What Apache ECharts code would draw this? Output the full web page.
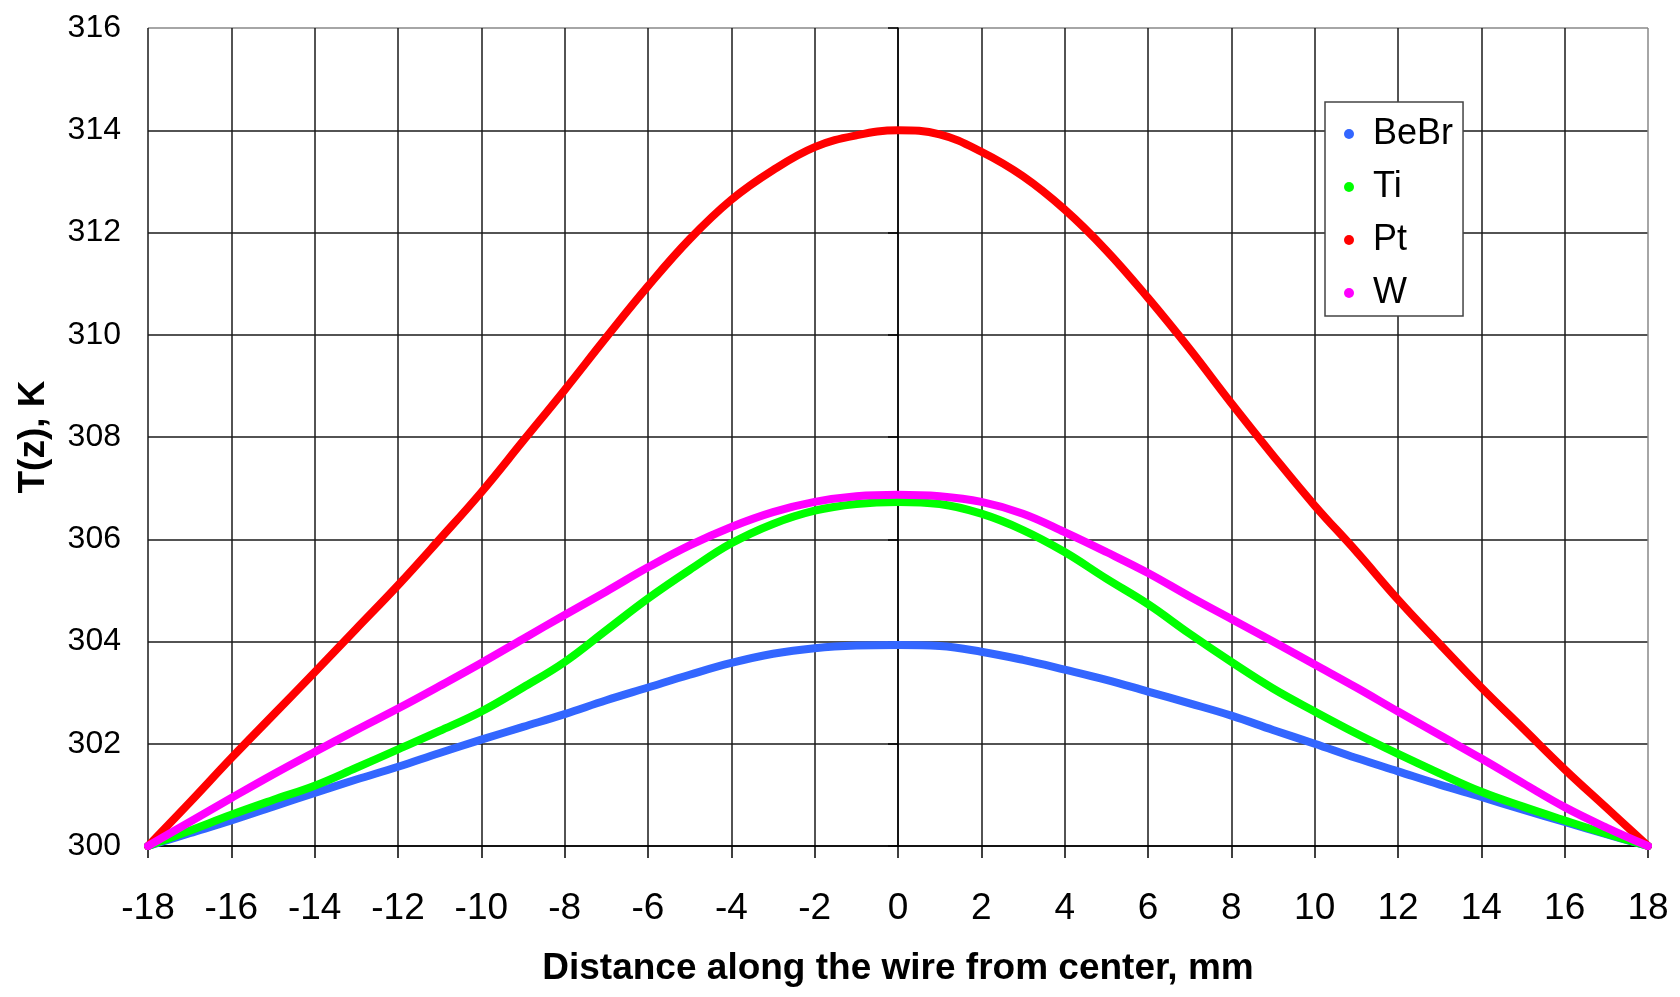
<!DOCTYPE html>
<html>
<head>
<meta charset="utf-8">
<script src="https://cdn.jsdelivr.net/npm/echarts@6/dist/echarts.min.js"></script>
<style>
html,body{margin:0;padding:0;background:#fff;}
#chart{width:1680px;height:997px;}
</style>
</head>
<body>
<div id="chart"></div>
<script>
var positions = [-18,-17,-16,-15,-14,-13,-12,-11,-10,-9,-8,-7,-6,-5,-4,-3,-2,-1,0,1,2,3,4,5,6,7,8,9,10,11,12,13,14,15,16,17,18];
var bebr = [300,300.25,300.5,300.77,301.04,301.3,301.55,301.82,302.08,302.33,302.58,302.85,303.1,303.35,303.58,303.76,303.87,303.92,303.93,303.91,303.8,303.64,303.45,303.25,303.02,302.79,302.55,302.27,302.0,301.72,301.46,301.2,300.96,300.71,300.47,300.23,300];
var ti = [300,300.3,300.61,300.9,301.18,301.53,301.89,302.25,302.63,303.1,303.6,304.22,304.84,305.4,305.92,306.3,306.56,306.69,306.73,306.69,306.5,306.18,305.75,305.23,304.73,304.15,303.6,303.08,302.63,302.2,301.8,301.42,301.06,300.77,300.5,300.24,300];
var pt = [300,300.85,301.72,302.56,303.4,304.25,305.1,306.0,306.92,307.92,308.92,309.95,310.95,311.87,312.64,313.22,313.67,313.9,314.0,313.92,313.58,313.1,312.45,311.65,310.72,309.72,308.66,307.64,306.66,305.76,304.82,303.95,303.1,302.3,301.5,300.75,300];
var w = [300,300.47,300.94,301.4,301.84,302.27,302.69,303.13,303.58,304.05,304.52,304.98,305.45,305.88,306.24,306.53,306.73,306.84,306.87,306.84,306.73,306.5,306.14,305.75,305.34,304.88,304.44,304.0,303.55,303.1,302.63,302.17,301.71,301.23,300.76,300.36,300];
var seriesNames = ['BeBr','Ti','Pt','W'];
var seriesColors = ['#3366FF','#00FF00','#FF0000','#FF00FF'];
var xTitle = 'Distance along the wire from center, mm';
var yTitle = 'T(z), K';

function pairs(arr){ return positions.map(function(x,i){ return [x, arr[i]]; }); }
var allData = [bebr, ti, pt, w];
var FONT = '"Liberation Sans", Arial, sans-serif';

var xGridColors = [];
for (var i = 0; i < 19; i++) xGridColors.push(i === 18 ? '#888888' : '#1a1a1a');
var yGridColors = [];
for (var j = 0; j < 9; j++) yGridColors.push(j === 8 ? '#888888' : '#1a1a1a');

var chart = echarts.init(document.getElementById('chart'), null, {renderer:'canvas'});
chart.setOption({
  animation: false,
  backgroundColor: '#ffffff',
  grid: {left: 148, right: 32, top: 28, bottom: 151, containLabel: false},
  legend: {
    orient: 'vertical',
    left: 1325, top: 102,
    icon: 'circle',
    itemWidth: 10, itemHeight: 10,
    itemGap: 17,
    padding: [14, 10, 5, 19],
    backgroundColor: '#ffffff',
    borderColor: '#444444',
    borderWidth: 1.5,
    borderRadius: 0,
    textStyle: {fontFamily: FONT, fontSize: 36, color: '#000', lineHeight: 36, padding: [0,0,0,14]},
    data: seriesNames
  },
  xAxis: {
    type: 'value', min: -18, max: 18, interval: 2,
    name: xTitle, nameLocation: 'middle', nameGap: 104,
    nameTextStyle: {fontFamily: FONT, fontSize: 37, fontWeight: 'bold', color: '#000'},
    axisLine: {show: true, onZero: false, lineStyle: {color: '#000', width: 1.5}},
    axisTick: {show: true, inside: false, length: 12, lineStyle: {color: '#000', width: 1.5}},
    axisLabel: {fontFamily: FONT, fontSize: 37, color: '#000', margin: 44},
    splitLine: {show: true, lineStyle: {color: xGridColors, width: 1.5}}
  },
  yAxis: {
    type: 'value', min: 300, max: 316, interval: 2,
    name: yTitle, nameLocation: 'middle', nameGap: 96, nameRotate: 90,
    nameTextStyle: {fontFamily: FONT, fontSize: 37, fontWeight: 'bold', color: '#000'},
    axisLine: {show: true, lineStyle: {color: '#000', width: 1.5}},
    axisTick: {show: true, inside: false, length: 10, lineStyle: {color: '#000', width: 1.5}},
    axisLabel: {fontFamily: FONT, fontSize: 32, color: '#000', margin: 27},
    splitLine: {show: true, lineStyle: {color: yGridColors, width: 1.5}}
  },
  series: seriesNames.map(function(n, k){
    return {
      name: n, type: 'line', data: pairs(allData[k]),
      smooth: 0.4, showSymbol: false, symbol: 'circle',
      itemStyle: {color: seriesColors[k]},
      lineStyle: {color: seriesColors[k], width: 8, cap: 'round', join: 'round'},
      emphasis: {disabled: true}
    };
  })
});
</script>
</body>
</html>
